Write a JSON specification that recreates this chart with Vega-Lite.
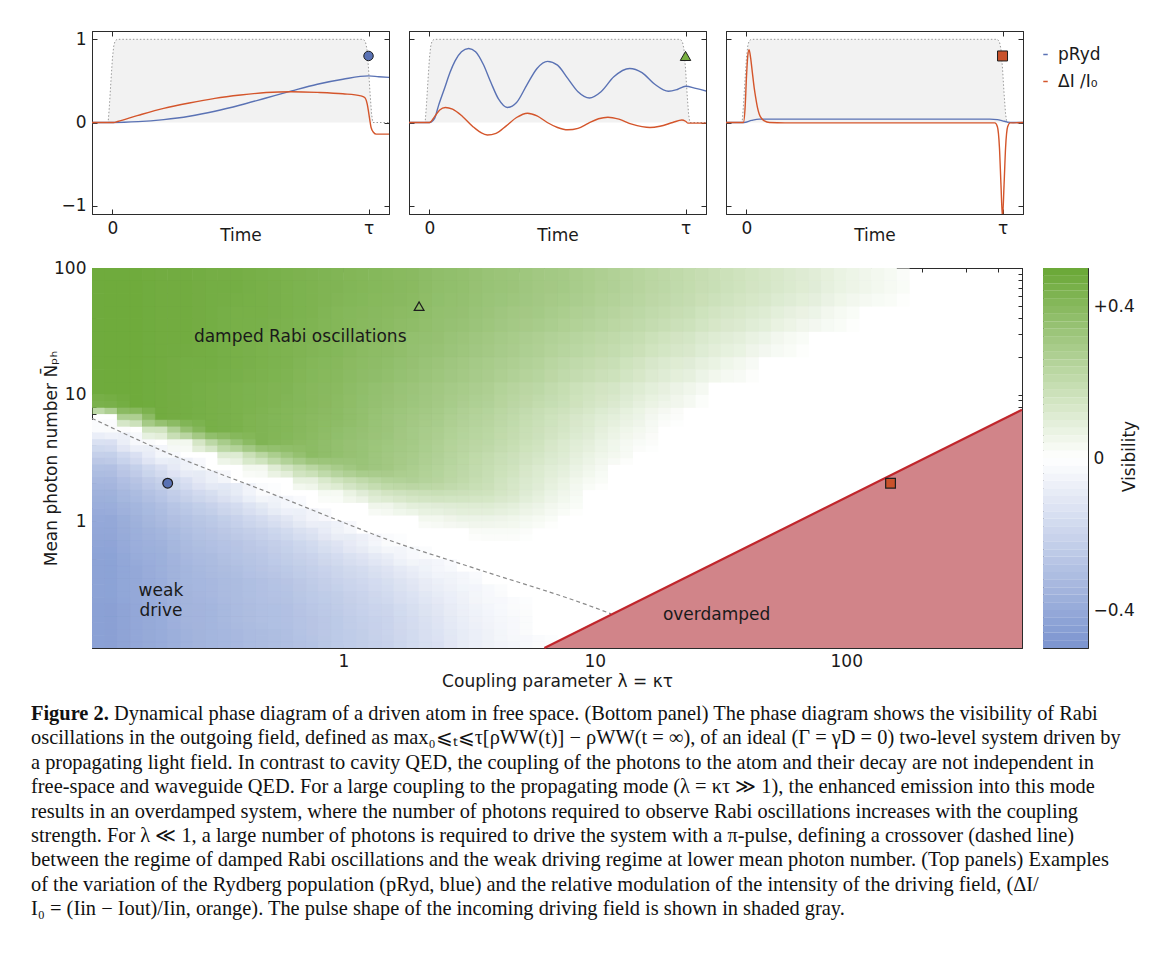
{
"$schema":"https://vega.github.io/schema/vega-lite/v6.json",
"background":"white",
"padding":{"left":30,"top":29,"right":5,"bottom":5},
"config":{
"view":{"stroke":"#2b2b2b","strokeWidth":1},
"axis":{"grid":false,"domain":true,"domainColor":"#2b2b2b","domainWidth":1,"zindex":1,"labelFont":"DejaVu Sans","titleFont":"DejaVu Sans","labelFontSize":17,"titleFontSize":17,"titleFontWeight":"normal","labelColor":"#1a1a1a","titleColor":"#1a1a1a","tickColor":"#2b2b2b","tickWidth":1,"labelFlush":false,"labelOverlap":false},
"legend":{"labelFont":"DejaVu Sans"},
"text":{"font":"DejaVu Sans"}
},
"datasets":{
"pulse":[{"t":-0.09,"p":0},{"t":-0.017,"p":0},{"t":-0.012,"p":0.2},{"t":-0.006,"p":0.5},{"t":0,"p":0.78},{"t":0.005,"p":0.92},{"t":0.01,"p":0.98},{"t":0.018,"p":1},{"t":0.98,"p":1},{"t":0.988,"p":0.97},{"t":0.994,"p":0.88},{"t":1,"p":0.65},{"t":1.006,"p":0.35},{"t":1.012,"p":0.1},{"t":1.017,"p":0},{"t":1.09,"p":0}],
"marker":[{"t":1,"y":0.8}],
"p1":[
{"s":"pRyd","t":-0.09,"y":0},{"s":"pRyd","t":0,"y":0},{"s":"pRyd","t":0.1,"y":0.01},{"s":"pRyd","t":0.2,"y":0.035},{"s":"pRyd","t":0.3,"y":0.075},{"s":"pRyd","t":0.4,"y":0.135},{"s":"pRyd","t":0.5,"y":0.21},{"s":"pRyd","t":0.6,"y":0.295},{"s":"pRyd","t":0.7,"y":0.38},{"s":"pRyd","t":0.8,"y":0.46},{"s":"pRyd","t":0.9,"y":0.52},{"s":"pRyd","t":1.0,"y":0.56},{"s":"pRyd","t":1.04,"y":0.55},{"s":"pRyd","t":1.09,"y":0.54},
{"s":"ΔI /I₀","t":-0.09,"y":0},{"s":"ΔI /I₀","t":0.005,"y":0},{"s":"ΔI /I₀","t":0.02,"y":0.012},{"s":"ΔI /I₀","t":0.1,"y":0.085},{"s":"ΔI /I₀","t":0.2,"y":0.17},{"s":"ΔI /I₀","t":0.3,"y":0.235},{"s":"ΔI /I₀","t":0.4,"y":0.29},{"s":"ΔI /I₀","t":0.5,"y":0.33},{"s":"ΔI /I₀","t":0.6,"y":0.36},{"s":"ΔI /I₀","t":0.7,"y":0.37},{"s":"ΔI /I₀","t":0.8,"y":0.362},{"s":"ΔI /I₀","t":0.9,"y":0.345},{"s":"ΔI /I₀","t":0.97,"y":0.32},{"s":"ΔI /I₀","t":0.985,"y":0.3},{"s":"ΔI /I₀","t":0.995,"y":0.22},{"s":"ΔI /I₀","t":1.0,"y":0.13},{"s":"ΔI /I₀","t":1.005,"y":0.03},{"s":"ΔI /I₀","t":1.01,"y":-0.06},{"s":"ΔI /I₀","t":1.02,"y":-0.12},{"s":"ΔI /I₀","t":1.03,"y":-0.14},{"s":"ΔI /I₀","t":1.09,"y":-0.14}],
"p2":[
{"s":"pRyd","t":-0.09,"y":0},{"s":"pRyd","t":0,"y":0},{"s":"pRyd","t":0.02,"y":0.05},{"s":"pRyd","t":0.035,"y":0.2},{"s":"pRyd","t":0.06,"y":0.42},{"s":"pRyd","t":0.08,"y":0.6},{"s":"pRyd","t":0.1,"y":0.74},{"s":"pRyd","t":0.125,"y":0.85},{"s":"pRyd","t":0.153,"y":0.89},{"s":"pRyd","t":0.18,"y":0.85},{"s":"pRyd","t":0.21,"y":0.7},{"s":"pRyd","t":0.24,"y":0.48},{"s":"pRyd","t":0.27,"y":0.28},{"s":"pRyd","t":0.304,"y":0.18},{"s":"pRyd","t":0.34,"y":0.24},{"s":"pRyd","t":0.38,"y":0.45},{"s":"pRyd","t":0.42,"y":0.65},{"s":"pRyd","t":0.461,"y":0.735},{"s":"pRyd","t":0.5,"y":0.69},{"s":"pRyd","t":0.54,"y":0.53},{"s":"pRyd","t":0.58,"y":0.37},{"s":"pRyd","t":0.625,"y":0.295},{"s":"pRyd","t":0.67,"y":0.37},{"s":"pRyd","t":0.72,"y":0.55},{"s":"pRyd","t":0.782,"y":0.65},{"s":"pRyd","t":0.83,"y":0.6},{"s":"pRyd","t":0.88,"y":0.46},{"s":"pRyd","t":0.933,"y":0.375},{"s":"pRyd","t":0.97,"y":0.4},{"s":"pRyd","t":1.0,"y":0.435},{"s":"pRyd","t":1.04,"y":0.41},{"s":"pRyd","t":1.09,"y":0.37},
{"s":"ΔI /I₀","t":-0.09,"y":0},{"s":"ΔI /I₀","t":0,"y":0},{"s":"ΔI /I₀","t":0.02,"y":0.07},{"s":"ΔI /I₀","t":0.04,"y":0.15},{"s":"ΔI /I₀","t":0.062,"y":0.18},{"s":"ΔI /I₀","t":0.09,"y":0.16},{"s":"ΔI /I₀","t":0.13,"y":0.07},{"s":"ΔI /I₀","t":0.17,"y":-0.05},{"s":"ΔI /I₀","t":0.2,"y":-0.12},{"s":"ΔI /I₀","t":0.226,"y":-0.15},{"s":"ΔI /I₀","t":0.26,"y":-0.13},{"s":"ΔI /I₀","t":0.3,"y":-0.04},{"s":"ΔI /I₀","t":0.34,"y":0.06},{"s":"ΔI /I₀","t":0.383,"y":0.112},{"s":"ΔI /I₀","t":0.42,"y":0.08},{"s":"ΔI /I₀","t":0.46,"y":0.0},{"s":"ΔI /I₀","t":0.5,"y":-0.06},{"s":"ΔI /I₀","t":0.54,"y":-0.088},{"s":"ΔI /I₀","t":0.58,"y":-0.07},{"s":"ΔI /I₀","t":0.62,"y":-0.01},{"s":"ΔI /I₀","t":0.66,"y":0.045},{"s":"ΔI /I₀","t":0.697,"y":0.064},{"s":"ΔI /I₀","t":0.74,"y":0.04},{"s":"ΔI /I₀","t":0.79,"y":-0.02},{"s":"ΔI /I₀","t":0.83,"y":-0.05},{"s":"ΔI /I₀","t":0.861,"y":-0.06},{"s":"ΔI /I₀","t":0.9,"y":-0.045},{"s":"ΔI /I₀","t":0.95,"y":0.0},{"s":"ΔI /I₀","t":0.986,"y":0.03},{"s":"ΔI /I₀","t":1.0,"y":0.015},{"s":"ΔI /I₀","t":1.01,"y":-0.008},{"s":"ΔI /I₀","t":1.09,"y":-0.008}],
"p3":[
{"s":"pRyd","t":-0.09,"y":0},{"s":"pRyd","t":-0.01,"y":0},{"s":"pRyd","t":0.02,"y":0.025},{"s":"pRyd","t":0.05,"y":0.04},{"s":"pRyd","t":0.95,"y":0.04},{"s":"pRyd","t":0.98,"y":0.035},{"s":"pRyd","t":1.0,"y":0.02},{"s":"pRyd","t":1.02,"y":0.005},{"s":"pRyd","t":1.04,"y":0},{"s":"pRyd","t":1.09,"y":0},
{"s":"ΔI /I₀","t":-0.09,"y":0},{"s":"ΔI /I₀","t":-0.012,"y":0},{"s":"ΔI /I₀","t":-0.005,"y":0.2},{"s":"ΔI /I₀","t":0,"y":0.55},{"s":"ΔI /I₀","t":0.005,"y":0.8},{"s":"ΔI /I₀","t":0.01,"y":0.876},{"s":"ΔI /I₀","t":0.016,"y":0.78},{"s":"ΔI /I₀","t":0.023,"y":0.6},{"s":"ΔI /I₀","t":0.03,"y":0.42},{"s":"ΔI /I₀","t":0.036,"y":0.3},{"s":"ΔI /I₀","t":0.043,"y":0.18},{"s":"ΔI /I₀","t":0.05,"y":0.1},{"s":"ΔI /I₀","t":0.06,"y":0.045},{"s":"ΔI /I₀","t":0.07,"y":0.02},{"s":"ΔI /I₀","t":0.09,"y":0},{"s":"ΔI /I₀","t":0.15,"y":-0.005},{"s":"ΔI /I₀","t":0.97,"y":-0.005},{"s":"ΔI /I₀","t":0.98,"y":-0.05},{"s":"ΔI /I₀","t":0.988,"y":-0.3},{"s":"ΔI /I₀","t":0.994,"y":-0.75},{"s":"ΔI /I₀","t":1.0,"y":-1.15},{"s":"ΔI /I₀","t":1.006,"y":-0.75},{"s":"ΔI /I₀","t":1.012,"y":-0.3},{"s":"ΔI /I₀","t":1.02,"y":-0.05},{"s":"ΔI /I₀","t":1.03,"y":-0.005},{"s":"ΔI /I₀","t":1.09,"y":0}],
"coarse":[
{"lam":0.1122,"n":79.43,"v":0.48},{"lam":0.1413,"n":79.43,"v":0.48},{"lam":0.1778,"n":79.43,"v":0.47},{"lam":0.2239,"n":79.43,"v":0.47},{"lam":0.2818,"n":79.43,"v":0.46},{"lam":0.3548,"n":79.43,"v":0.46},{"lam":0.4467,"n":79.43,"v":0.45},{"lam":0.5623,"n":79.43,"v":0.44},{"lam":0.7079,"n":79.43,"v":0.43},{"lam":0.8913,"n":79.43,"v":0.42},{"lam":1.122,"n":79.43,"v":0.41},{"lam":1.413,"n":79.43,"v":0.40},{"lam":1.778,"n":79.43,"v":0.39},{"lam":2.239,"n":79.43,"v":0.37},{"lam":2.818,"n":79.43,"v":0.36},{"lam":3.548,"n":79.43,"v":0.34},{"lam":4.467,"n":79.43,"v":0.33},{"lam":5.623,"n":79.43,"v":0.31},{"lam":7.079,"n":79.43,"v":0.30},{"lam":8.913,"n":79.43,"v":0.28},{"lam":11.22,"n":79.43,"v":0.26},{"lam":14.13,"n":79.43,"v":0.24},{"lam":17.78,"n":79.43,"v":0.22},{"lam":22.39,"n":79.43,"v":0.20},{"lam":28.18,"n":79.43,"v":0.18},{"lam":35.48,"n":79.43,"v":0.16},{"lam":44.67,"n":79.43,"v":0.14},{"lam":56.23,"n":79.43,"v":0.12},{"lam":70.79,"n":79.43,"v":0.10},{"lam":89.13,"n":79.43,"v":0.07},{"lam":112.2,"n":79.43,"v":0.05},{"lam":141.3,"n":79.43,"v":0.03},
{"lam":0.1122,"n":50.12,"v":0.48},{"lam":0.1413,"n":50.12,"v":0.48},{"lam":0.1778,"n":50.12,"v":0.47},{"lam":0.2239,"n":50.12,"v":0.47},{"lam":0.2818,"n":50.12,"v":0.46},{"lam":0.3548,"n":50.12,"v":0.45},{"lam":0.4467,"n":50.12,"v":0.45},{"lam":0.5623,"n":50.12,"v":0.44},{"lam":0.7079,"n":50.12,"v":0.43},{"lam":0.8913,"n":50.12,"v":0.41},{"lam":1.122,"n":50.12,"v":0.40},{"lam":1.413,"n":50.12,"v":0.39},{"lam":1.778,"n":50.12,"v":0.38},{"lam":2.239,"n":50.12,"v":0.36},{"lam":2.818,"n":50.12,"v":0.35},{"lam":3.548,"n":50.12,"v":0.33},{"lam":4.467,"n":50.12,"v":0.31},{"lam":5.623,"n":50.12,"v":0.30},{"lam":7.079,"n":50.12,"v":0.28},{"lam":8.913,"n":50.12,"v":0.26},{"lam":11.22,"n":50.12,"v":0.24},{"lam":14.13,"n":50.12,"v":0.22},{"lam":17.78,"n":50.12,"v":0.20},{"lam":22.39,"n":50.12,"v":0.18},{"lam":28.18,"n":50.12,"v":0.15},{"lam":35.48,"n":50.12,"v":0.13},{"lam":44.67,"n":50.12,"v":0.11},{"lam":56.23,"n":50.12,"v":0.08},{"lam":70.79,"n":50.12,"v":0.06},{"lam":89.13,"n":50.12,"v":0.03},
{"lam":0.1122,"n":31.62,"v":0.48},{"lam":0.1413,"n":31.62,"v":0.48},{"lam":0.1778,"n":31.62,"v":0.47},{"lam":0.2239,"n":31.62,"v":0.47},{"lam":0.2818,"n":31.62,"v":0.46},{"lam":0.3548,"n":31.62,"v":0.45},{"lam":0.4467,"n":31.62,"v":0.44},{"lam":0.5623,"n":31.62,"v":0.43},{"lam":0.7079,"n":31.62,"v":0.42},{"lam":0.8913,"n":31.62,"v":0.41},{"lam":1.122,"n":31.62,"v":0.39},{"lam":1.413,"n":31.62,"v":0.38},{"lam":1.778,"n":31.62,"v":0.36},{"lam":2.239,"n":31.62,"v":0.35},{"lam":2.818,"n":31.62,"v":0.33},{"lam":3.548,"n":31.62,"v":0.31},{"lam":4.467,"n":31.62,"v":0.29},{"lam":5.623,"n":31.62,"v":0.27},{"lam":7.079,"n":31.62,"v":0.25},{"lam":8.913,"n":31.62,"v":0.23},{"lam":11.22,"n":31.62,"v":0.21},{"lam":14.13,"n":31.62,"v":0.19},{"lam":17.78,"n":31.62,"v":0.16},{"lam":22.39,"n":31.62,"v":0.14},{"lam":28.18,"n":31.62,"v":0.11},{"lam":35.48,"n":31.62,"v":0.09},{"lam":44.67,"n":31.62,"v":0.06},{"lam":56.23,"n":31.62,"v":0.03},
{"lam":0.1122,"n":19.95,"v":0.48},{"lam":0.1413,"n":19.95,"v":0.48},{"lam":0.1778,"n":19.95,"v":0.47},{"lam":0.2239,"n":19.95,"v":0.46},{"lam":0.2818,"n":19.95,"v":0.46},{"lam":0.3548,"n":19.95,"v":0.45},{"lam":0.4467,"n":19.95,"v":0.44},{"lam":0.5623,"n":19.95,"v":0.43},{"lam":0.7079,"n":19.95,"v":0.41},{"lam":0.8913,"n":19.95,"v":0.40},{"lam":1.122,"n":19.95,"v":0.38},{"lam":1.413,"n":19.95,"v":0.37},{"lam":1.778,"n":19.95,"v":0.35},{"lam":2.239,"n":19.95,"v":0.33},{"lam":2.818,"n":19.95,"v":0.31},{"lam":3.548,"n":19.95,"v":0.29},{"lam":4.467,"n":19.95,"v":0.27},{"lam":5.623,"n":19.95,"v":0.25},{"lam":7.079,"n":19.95,"v":0.22},{"lam":8.913,"n":19.95,"v":0.20},{"lam":11.22,"n":19.95,"v":0.18},{"lam":14.13,"n":19.95,"v":0.15},{"lam":17.78,"n":19.95,"v":0.12},{"lam":22.39,"n":19.95,"v":0.10},{"lam":28.18,"n":19.95,"v":0.07},{"lam":35.48,"n":19.95,"v":0.04},
{"lam":0.1122,"n":12.59,"v":0.48},{"lam":0.1413,"n":12.59,"v":0.48},{"lam":0.1778,"n":12.59,"v":0.47},{"lam":0.2239,"n":12.59,"v":0.46},{"lam":0.2818,"n":12.59,"v":0.45},{"lam":0.3548,"n":12.59,"v":0.44},{"lam":0.4467,"n":12.59,"v":0.43},{"lam":0.5623,"n":12.59,"v":0.42},{"lam":0.7079,"n":12.59,"v":0.40},{"lam":0.8913,"n":12.59,"v":0.39},{"lam":1.122,"n":12.59,"v":0.37},{"lam":1.413,"n":12.59,"v":0.35},{"lam":1.778,"n":12.59,"v":0.33},{"lam":2.239,"n":12.59,"v":0.31},{"lam":2.818,"n":12.59,"v":0.29},{"lam":3.548,"n":12.59,"v":0.27},{"lam":4.467,"n":12.59,"v":0.24},{"lam":5.623,"n":12.59,"v":0.22},{"lam":7.079,"n":12.59,"v":0.19},{"lam":8.913,"n":12.59,"v":0.16},{"lam":11.22,"n":12.59,"v":0.14},{"lam":14.13,"n":12.59,"v":0.11},{"lam":17.78,"n":12.59,"v":0.08},{"lam":22.39,"n":12.59,"v":0.05}],
"fine":[
{"lam":0.1122,"n":8.913,"v":0.43},{"lam":0.1413,"n":8.913,"v":0.48},{"lam":0.1778,"n":8.913,"v":0.47},{"lam":0.2239,"n":8.913,"v":0.46},{"lam":0.2818,"n":8.913,"v":0.45},{"lam":0.3548,"n":8.913,"v":0.44},{"lam":0.4467,"n":8.913,"v":0.43},{"lam":0.5623,"n":8.913,"v":0.41},{"lam":0.7079,"n":8.913,"v":0.40},{"lam":0.8913,"n":8.913,"v":0.38},{"lam":1.122,"n":8.913,"v":0.36},{"lam":1.413,"n":8.913,"v":0.34},{"lam":1.778,"n":8.913,"v":0.32},{"lam":2.239,"n":8.913,"v":0.30},{"lam":2.818,"n":8.913,"v":0.27},{"lam":3.548,"n":8.913,"v":0.25},{"lam":4.467,"n":8.913,"v":0.22},{"lam":5.623,"n":8.913,"v":0.19},{"lam":7.079,"n":8.913,"v":0.17},{"lam":8.913,"n":8.913,"v":0.14},{"lam":11.22,"n":8.913,"v":0.11},{"lam":14.13,"n":8.913,"v":0.07},{"lam":17.78,"n":8.913,"v":0.04},
{"lam":0.1413,"n":7.079,"v":0.27},{"lam":0.1778,"n":7.079,"v":0.47},{"lam":0.2239,"n":7.079,"v":0.46},{"lam":0.2818,"n":7.079,"v":0.45},{"lam":0.3548,"n":7.079,"v":0.44},{"lam":0.4467,"n":7.079,"v":0.42},{"lam":0.5623,"n":7.079,"v":0.41},{"lam":0.7079,"n":7.079,"v":0.39},{"lam":0.8913,"n":7.079,"v":0.38},{"lam":1.122,"n":7.079,"v":0.36},{"lam":1.413,"n":7.079,"v":0.33},{"lam":1.778,"n":7.079,"v":0.31},{"lam":2.239,"n":7.079,"v":0.29},{"lam":2.818,"n":7.079,"v":0.26},{"lam":3.548,"n":7.079,"v":0.24},{"lam":4.467,"n":7.079,"v":0.21},{"lam":5.623,"n":7.079,"v":0.18},{"lam":7.079,"n":7.079,"v":0.15},{"lam":8.913,"n":7.079,"v":0.12},{"lam":11.22,"n":7.079,"v":0.09},{"lam":14.13,"n":7.079,"v":0.06},{"lam":17.78,"n":7.079,"v":0.02},
{"lam":0.1122,"n":5.623,"v":-0.02},{"lam":0.1778,"n":5.623,"v":0.15},{"lam":0.2239,"n":5.623,"v":0.35},{"lam":0.2818,"n":5.623,"v":0.45},{"lam":0.3548,"n":5.623,"v":0.44},{"lam":0.4467,"n":5.623,"v":0.42},{"lam":0.5623,"n":5.623,"v":0.41},{"lam":0.7079,"n":5.623,"v":0.39},{"lam":0.8913,"n":5.623,"v":0.37},{"lam":1.122,"n":5.623,"v":0.35},{"lam":1.413,"n":5.623,"v":0.33},{"lam":1.778,"n":5.623,"v":0.30},{"lam":2.239,"n":5.623,"v":0.28},{"lam":2.818,"n":5.623,"v":0.25},{"lam":3.548,"n":5.623,"v":0.23},{"lam":4.467,"n":5.623,"v":0.20},{"lam":5.623,"n":5.623,"v":0.17},{"lam":7.079,"n":5.623,"v":0.14},{"lam":8.913,"n":5.623,"v":0.11},{"lam":11.22,"n":5.623,"v":0.07},{"lam":14.13,"n":5.623,"v":0.04},
{"lam":0.1122,"n":4.467,"v":-0.14},{"lam":0.1413,"n":4.467,"v":-0.03},{"lam":0.2239,"n":4.467,"v":0.04},{"lam":0.2818,"n":4.467,"v":0.22},{"lam":0.3548,"n":4.467,"v":0.34},{"lam":0.4467,"n":4.467,"v":0.42},{"lam":0.5623,"n":4.467,"v":0.40},{"lam":0.7079,"n":4.467,"v":0.38},{"lam":0.8913,"n":4.467,"v":0.36},{"lam":1.122,"n":4.467,"v":0.34},{"lam":1.413,"n":4.467,"v":0.32},{"lam":1.778,"n":4.467,"v":0.30},{"lam":2.239,"n":4.467,"v":0.27},{"lam":2.818,"n":4.467,"v":0.24},{"lam":3.548,"n":4.467,"v":0.22},{"lam":4.467,"n":4.467,"v":0.19},{"lam":5.623,"n":4.467,"v":0.16},{"lam":7.079,"n":4.467,"v":0.12},{"lam":8.913,"n":4.467,"v":0.09},{"lam":11.22,"n":4.467,"v":0.05},{"lam":14.13,"n":4.467,"v":0.02},
{"lam":0.1122,"n":3.548,"v":-0.22},{"lam":0.1413,"n":3.548,"v":-0.14},{"lam":0.1778,"n":3.548,"v":-0.04},{"lam":0.3548,"n":3.548,"v":0.11},{"lam":0.4467,"n":3.548,"v":0.23},{"lam":0.5623,"n":3.548,"v":0.32},{"lam":0.7079,"n":3.548,"v":0.38},{"lam":0.8913,"n":3.548,"v":0.36},{"lam":1.122,"n":3.548,"v":0.34},{"lam":1.413,"n":3.548,"v":0.31},{"lam":1.778,"n":3.548,"v":0.29},{"lam":2.239,"n":3.548,"v":0.26},{"lam":2.818,"n":3.548,"v":0.23},{"lam":3.548,"n":3.548,"v":0.20},{"lam":4.467,"n":3.548,"v":0.17},{"lam":5.623,"n":3.548,"v":0.14},{"lam":7.079,"n":3.548,"v":0.11},{"lam":8.913,"n":3.548,"v":0.07},{"lam":11.22,"n":3.548,"v":0.04},
{"lam":0.1122,"n":2.818,"v":-0.29},{"lam":0.1413,"n":2.818,"v":-0.22},{"lam":0.1778,"n":2.818,"v":-0.14},{"lam":0.2239,"n":2.818,"v":-0.06},{"lam":0.4467,"n":2.818,"v":0.04},{"lam":0.5623,"n":2.818,"v":0.15},{"lam":0.7079,"n":2.818,"v":0.23},{"lam":0.8913,"n":2.818,"v":0.29},{"lam":1.122,"n":2.818,"v":0.33},{"lam":1.413,"n":2.818,"v":0.31},{"lam":1.778,"n":2.818,"v":0.28},{"lam":2.239,"n":2.818,"v":0.25},{"lam":2.818,"n":2.818,"v":0.22},{"lam":3.548,"n":2.818,"v":0.19},{"lam":4.467,"n":2.818,"v":0.16},{"lam":5.623,"n":2.818,"v":0.12},{"lam":7.079,"n":2.818,"v":0.09},{"lam":8.913,"n":2.818,"v":0.05},
{"lam":0.1122,"n":2.239,"v":-0.33},{"lam":0.1413,"n":2.239,"v":-0.27},{"lam":0.1778,"n":2.239,"v":-0.21},{"lam":0.2239,"n":2.239,"v":-0.14},{"lam":0.2818,"n":2.239,"v":-0.07},{"lam":0.7079,"n":2.239,"v":0.08},{"lam":0.8913,"n":2.239,"v":0.16},{"lam":1.122,"n":2.239,"v":0.21},{"lam":1.413,"n":2.239,"v":0.25},{"lam":1.778,"n":2.239,"v":0.26},{"lam":2.239,"n":2.239,"v":0.24},{"lam":2.818,"n":2.239,"v":0.21},{"lam":3.548,"n":2.239,"v":0.18},{"lam":4.467,"n":2.239,"v":0.14},{"lam":5.623,"n":2.239,"v":0.11},{"lam":7.079,"n":2.239,"v":0.07},{"lam":8.913,"n":2.239,"v":0.03},
{"lam":0.1122,"n":1.778,"v":-0.36},{"lam":0.1413,"n":1.778,"v":-0.31},{"lam":0.1778,"n":1.778,"v":-0.26},{"lam":0.2239,"n":1.778,"v":-0.20},{"lam":0.2818,"n":1.778,"v":-0.15},{"lam":0.3548,"n":1.778,"v":-0.09},{"lam":0.4467,"n":1.778,"v":-0.02},{"lam":0.8913,"n":1.778,"v":0.03},{"lam":1.122,"n":1.778,"v":0.10},{"lam":1.413,"n":1.778,"v":0.15},{"lam":1.778,"n":1.778,"v":0.17},{"lam":2.239,"n":1.778,"v":0.18},{"lam":2.818,"n":1.778,"v":0.17},{"lam":3.548,"n":1.778,"v":0.16},{"lam":4.467,"n":1.778,"v":0.13},{"lam":5.623,"n":1.778,"v":0.09},{"lam":7.079,"n":1.778,"v":0.05},
{"lam":0.1122,"n":1.413,"v":-0.38},{"lam":0.1413,"n":1.413,"v":-0.34},{"lam":0.1778,"n":1.413,"v":-0.30},{"lam":0.2239,"n":1.413,"v":-0.25},{"lam":0.2818,"n":1.413,"v":-0.21},{"lam":0.3548,"n":1.413,"v":-0.16},{"lam":0.4467,"n":1.413,"v":-0.10},{"lam":0.5623,"n":1.413,"v":-0.04},{"lam":1.413,"n":1.413,"v":0.05},{"lam":1.778,"n":1.413,"v":0.09},{"lam":2.239,"n":1.413,"v":0.10},{"lam":2.818,"n":1.413,"v":0.11},{"lam":3.548,"n":1.413,"v":0.11},{"lam":4.467,"n":1.413,"v":0.09},{"lam":5.623,"n":1.413,"v":0.06},{"lam":7.079,"n":1.413,"v":0.03},
{"lam":0.1122,"n":1.122,"v":-0.40},{"lam":0.1413,"n":1.122,"v":-0.36},{"lam":0.1778,"n":1.122,"v":-0.32},{"lam":0.2239,"n":1.122,"v":-0.28},{"lam":0.2818,"n":1.122,"v":-0.25},{"lam":0.3548,"n":1.122,"v":-0.21},{"lam":0.4467,"n":1.122,"v":-0.16},{"lam":0.5623,"n":1.122,"v":-0.11},{"lam":0.7079,"n":1.122,"v":-0.05},{"lam":2.239,"n":1.122,"v":0.04},{"lam":2.818,"n":1.122,"v":0.06},{"lam":3.548,"n":1.122,"v":0.06},{"lam":4.467,"n":1.122,"v":0.05},{"lam":5.623,"n":1.122,"v":0.03},
{"lam":0.1122,"n":0.8913,"v":-0.41},{"lam":0.1413,"n":0.8913,"v":-0.37},{"lam":0.1778,"n":0.8913,"v":-0.34},{"lam":0.2239,"n":0.8913,"v":-0.30},{"lam":0.2818,"n":0.8913,"v":-0.27},{"lam":0.3548,"n":0.8913,"v":-0.24},{"lam":0.4467,"n":0.8913,"v":-0.21},{"lam":0.5623,"n":0.8913,"v":-0.17},{"lam":0.7079,"n":0.8913,"v":-0.12},{"lam":0.8913,"n":0.8913,"v":-0.06},{"lam":3.548,"n":0.8913,"v":0.02},{"lam":4.467,"n":0.8913,"v":0.02},
{"lam":0.1122,"n":0.7079,"v":-0.42},{"lam":0.1413,"n":0.7079,"v":-0.38},{"lam":0.1778,"n":0.7079,"v":-0.36},{"lam":0.2239,"n":0.7079,"v":-0.32},{"lam":0.2818,"n":0.7079,"v":-0.29},{"lam":0.3548,"n":0.7079,"v":-0.27},{"lam":0.4467,"n":0.7079,"v":-0.24},{"lam":0.5623,"n":0.7079,"v":-0.21},{"lam":0.7079,"n":0.7079,"v":-0.17},{"lam":0.8913,"n":0.7079,"v":-0.12},{"lam":1.122,"n":0.7079,"v":-0.07},{"lam":1.413,"n":0.7079,"v":-0.02},
{"lam":0.1122,"n":0.5623,"v":-0.43},{"lam":0.1413,"n":0.5623,"v":-0.39},{"lam":0.1778,"n":0.5623,"v":-0.37},{"lam":0.2239,"n":0.5623,"v":-0.33},{"lam":0.2818,"n":0.5623,"v":-0.31},{"lam":0.3548,"n":0.5623,"v":-0.28},{"lam":0.4467,"n":0.5623,"v":-0.26},{"lam":0.5623,"n":0.5623,"v":-0.23},{"lam":0.7079,"n":0.5623,"v":-0.20},{"lam":0.8913,"n":0.5623,"v":-0.16},{"lam":1.122,"n":0.5623,"v":-0.12},{"lam":1.413,"n":0.5623,"v":-0.08},{"lam":1.778,"n":0.5623,"v":-0.03},
{"lam":0.1122,"n":0.4467,"v":-0.43},{"lam":0.1413,"n":0.4467,"v":-0.40},{"lam":0.1778,"n":0.4467,"v":-0.37},{"lam":0.2239,"n":0.4467,"v":-0.34},{"lam":0.2818,"n":0.4467,"v":-0.32},{"lam":0.3548,"n":0.4467,"v":-0.30},{"lam":0.4467,"n":0.4467,"v":-0.27},{"lam":0.5623,"n":0.4467,"v":-0.25},{"lam":0.7079,"n":0.4467,"v":-0.22},{"lam":0.8913,"n":0.4467,"v":-0.19},{"lam":1.122,"n":0.4467,"v":-0.16},{"lam":1.413,"n":0.4467,"v":-0.12},{"lam":1.778,"n":0.4467,"v":-0.08},{"lam":2.239,"n":0.4467,"v":-0.04},
{"lam":0.1122,"n":0.3548,"v":-0.43},{"lam":0.1413,"n":0.3548,"v":-0.40},{"lam":0.1778,"n":0.3548,"v":-0.38},{"lam":0.2239,"n":0.3548,"v":-0.34},{"lam":0.2818,"n":0.3548,"v":-0.33},{"lam":0.3548,"n":0.3548,"v":-0.31},{"lam":0.4467,"n":0.3548,"v":-0.29},{"lam":0.5623,"n":0.3548,"v":-0.27},{"lam":0.7079,"n":0.3548,"v":-0.24},{"lam":0.8913,"n":0.3548,"v":-0.21},{"lam":1.122,"n":0.3548,"v":-0.18},{"lam":1.413,"n":0.3548,"v":-0.15},{"lam":1.778,"n":0.3548,"v":-0.11},{"lam":2.239,"n":0.3548,"v":-0.07},{"lam":2.818,"n":0.3548,"v":-0.04},
{"lam":0.1122,"n":0.2818,"v":-0.43},{"lam":0.1413,"n":0.2818,"v":-0.40},{"lam":0.1778,"n":0.2818,"v":-0.38},{"lam":0.2239,"n":0.2818,"v":-0.35},{"lam":0.2818,"n":0.2818,"v":-0.33},{"lam":0.3548,"n":0.2818,"v":-0.31},{"lam":0.4467,"n":0.2818,"v":-0.29},{"lam":0.5623,"n":0.2818,"v":-0.28},{"lam":0.7079,"n":0.2818,"v":-0.25},{"lam":0.8913,"n":0.2818,"v":-0.23},{"lam":1.122,"n":0.2818,"v":-0.20},{"lam":1.413,"n":0.2818,"v":-0.17},{"lam":1.778,"n":0.2818,"v":-0.13},{"lam":2.239,"n":0.2818,"v":-0.09},{"lam":2.818,"n":0.2818,"v":-0.06},{"lam":3.548,"n":0.2818,"v":-0.03},
{"lam":0.1122,"n":0.2239,"v":-0.44},{"lam":0.1413,"n":0.2239,"v":-0.41},{"lam":0.1778,"n":0.2239,"v":-0.38},{"lam":0.2239,"n":0.2239,"v":-0.35},{"lam":0.2818,"n":0.2239,"v":-0.34},{"lam":0.3548,"n":0.2239,"v":-0.32},{"lam":0.4467,"n":0.2239,"v":-0.30},{"lam":0.5623,"n":0.2239,"v":-0.29},{"lam":0.7079,"n":0.2239,"v":-0.26},{"lam":0.8913,"n":0.2239,"v":-0.24},{"lam":1.122,"n":0.2239,"v":-0.21},{"lam":1.413,"n":0.2239,"v":-0.19},{"lam":1.778,"n":0.2239,"v":-0.15},{"lam":2.239,"n":0.2239,"v":-0.11},{"lam":2.818,"n":0.2239,"v":-0.07},{"lam":3.548,"n":0.2239,"v":-0.04},{"lam":4.467,"n":0.2239,"v":-0.02},
{"lam":0.1122,"n":0.1778,"v":-0.44},{"lam":0.1413,"n":0.1778,"v":-0.41},{"lam":0.1778,"n":0.1778,"v":-0.39},{"lam":0.2239,"n":0.1778,"v":-0.35},{"lam":0.2818,"n":0.1778,"v":-0.34},{"lam":0.3548,"n":0.1778,"v":-0.32},{"lam":0.4467,"n":0.1778,"v":-0.30},{"lam":0.5623,"n":0.1778,"v":-0.29},{"lam":0.7079,"n":0.1778,"v":-0.27},{"lam":0.8913,"n":0.1778,"v":-0.25},{"lam":1.122,"n":0.1778,"v":-0.22},{"lam":1.413,"n":0.1778,"v":-0.20},{"lam":1.778,"n":0.1778,"v":-0.16},{"lam":2.239,"n":0.1778,"v":-0.12},{"lam":2.818,"n":0.1778,"v":-0.08},{"lam":3.548,"n":0.1778,"v":-0.05},{"lam":4.467,"n":0.1778,"v":-0.03},
{"lam":0.1122,"n":0.1413,"v":-0.44},{"lam":0.1413,"n":0.1413,"v":-0.41},{"lam":0.1778,"n":0.1413,"v":-0.39},{"lam":0.2239,"n":0.1413,"v":-0.36},{"lam":0.2818,"n":0.1413,"v":-0.34},{"lam":0.3548,"n":0.1413,"v":-0.33},{"lam":0.4467,"n":0.1413,"v":-0.31},{"lam":0.5623,"n":0.1413,"v":-0.30},{"lam":0.7079,"n":0.1413,"v":-0.27},{"lam":0.8913,"n":0.1413,"v":-0.25},{"lam":1.122,"n":0.1413,"v":-0.23},{"lam":1.413,"n":0.1413,"v":-0.20},{"lam":1.778,"n":0.1413,"v":-0.17},{"lam":2.239,"n":0.1413,"v":-0.13},{"lam":2.818,"n":0.1413,"v":-0.09},{"lam":3.548,"n":0.1413,"v":-0.06},{"lam":4.467,"n":0.1413,"v":-0.03},
{"lam":0.1122,"n":0.1122,"v":-0.44},{"lam":0.1413,"n":0.1122,"v":-0.41},{"lam":0.1778,"n":0.1122,"v":-0.39},{"lam":0.2239,"n":0.1122,"v":-0.36},{"lam":0.2818,"n":0.1122,"v":-0.34},{"lam":0.3548,"n":0.1122,"v":-0.33},{"lam":0.4467,"n":0.1122,"v":-0.31},{"lam":0.5623,"n":0.1122,"v":-0.30},{"lam":0.7079,"n":0.1122,"v":-0.28},{"lam":0.8913,"n":0.1122,"v":-0.25},{"lam":1.122,"n":0.1122,"v":-0.23},{"lam":1.413,"n":0.1122,"v":-0.21},{"lam":1.778,"n":0.1122,"v":-0.17},{"lam":2.239,"n":0.1122,"v":-0.14},{"lam":2.818,"n":0.1122,"v":-0.09},{"lam":3.548,"n":0.1122,"v":-0.06},{"lam":4.467,"n":0.1122,"v":-0.04},{"lam":5.623,"n":0.1122,"v":-0.02}],
"dash":[{"lam":0.1,"n":6.5},{"lam":0.2,"n":3.46},{"lam":0.5,"n":1.7},{"lam":1,"n":0.98},{"lam":1.41,"n":0.75},{"lam":3.16,"n":0.44},{"lam":10,"n":0.208},{"lam":11.6,"n":0.186}],
"od":[{"lam":6.3,"n":0.1},{"lam":500,"n":7.6}],
"pts":[{"lam":0.2,"n":2,"r":"weak"},{"lam":2,"n":50,"r":"rabi"},{"lam":150,"n":2,"r":"over"}],
"labels":[{"lam":0.673,"n":28.3,"label":"damped Rabi oscillations"},{"lam":0.188,"n":0.28,"label":"weak"},{"lam":0.188,"n":0.195,"label":"drive"},{"lam":30.5,"n":0.181,"label":"overdamped"}],
"cbar":[{"v":-0.49},{"v":-0.47},{"v":-0.45},{"v":-0.43},{"v":-0.41},{"v":-0.39},{"v":-0.37},{"v":-0.35},{"v":-0.33},{"v":-0.31},{"v":-0.29},{"v":-0.27},{"v":-0.25},{"v":-0.23},{"v":-0.21},{"v":-0.19},{"v":-0.17},{"v":-0.15},{"v":-0.13},{"v":-0.11},{"v":-0.09},{"v":-0.07},{"v":-0.05},{"v":-0.03},{"v":-0.01},{"v":0.01},{"v":0.03},{"v":0.05},{"v":0.07},{"v":0.09},{"v":0.11},{"v":0.13},{"v":0.15},{"v":0.17},{"v":0.19},{"v":0.21},{"v":0.23},{"v":0.25},{"v":0.27},{"v":0.29},{"v":0.31},{"v":0.33},{"v":0.35},{"v":0.37},{"v":0.39},{"v":0.41},{"v":0.43},{"v":0.45},{"v":0.47},{"v":0.49}],
"cap":[
{"line":1,"part":"head","text":"Figure 2."},
{"line":1,"part":"body","text":"Dynamical phase diagram of a driven atom in free space. (Bottom panel) The phase diagram shows the visibility of Rabi"},
{"line":2,"part":"body","text":"oscillations in the outgoing field, defined as max₀⩽ₜ⩽τ[ρWW(t)] − ρWW(t = ∞), of an ideal (Γ = γD = 0) two-level system driven by"},
{"line":3,"part":"body","text":"a propagating light field. In contrast to cavity QED, the coupling of the photons to the atom and their decay are not independent in"},
{"line":4,"part":"body","text":"free-space and waveguide QED. For a large coupling to the propagating mode (λ = κτ ≫ 1), the enhanced emission into this mode"},
{"line":5,"part":"body","text":"results in an overdamped system, where the number of photons required to observe Rabi oscillations increases with the coupling"},
{"line":6,"part":"body","text":"strength. For λ ≪ 1, a large number of photons is required to drive the system with a π-pulse, defining a crossover (dashed line)"},
{"line":7,"part":"body","text":"between the regime of damped Rabi oscillations and the weak driving regime at lower mean photon number. (Top panels) Examples"},
{"line":8,"part":"body","text":"of the variation of the Rydberg population (pRyd, blue) and the relative modulation of the intensity of the driving field, (ΔI/"},
{"line":9,"part":"body","text":"I₀ = (Iin − Iout)/Iin, orange). The pulse shape of the incoming driving field is shown in shaded gray."}]
},
"resolve":{"scale":{"color":"independent","fill":"independent","shape":"independent"}},
"spacing":14,
"bounds":"full",
"vconcat":[
{
"spacing":20,
"bounds":"flush",
"resolve":{"legend":{"color":"independent"}},
"hconcat":[
{
"width":297,"height":183,
"layer":[
{"data":{"name":"pulse"},"mark":{"type":"area","color":"#f2f2f2","clip":true},
"encoding":{
"x":{"field":"t","type":"quantitative","scale":{"domain":[-0.08,1.08],"nice":false,"zero":false},"axis":{"orient":"bottom","values":[0,1],"labelExpr":"datum.value == 0 ? '0' : 'τ'","title":"Time","tickSize":-5,"labelPadding":11,"titleY":26,"titleBaseline":"alphabetic"}},
"y":{"field":"p","type":"quantitative","scale":{"domain":[-1.1,1.1],"nice":false,"zero":false},"axis":{"orient":"left","values":[-1,0,1],"labelExpr":"datum.value < 0 ? '−1' : (datum.value > 0 ? '1' : '0')","title":null,"tickSize":-5,"labelPadding":11}},
"y2":{"datum":0}}},
{"data":{"name":"pulse"},"mark":{"type":"line","color":"#9a9a9a","strokeDash":[1.5,2],"strokeWidth":1,"clip":true},
"encoding":{"x":{"field":"t","type":"quantitative","axis":null},"y":{"field":"p","type":"quantitative","axis":null}}},
{"data":{"name":"p1"},"mark":{"type":"line","strokeWidth":1.4,"clip":true,"interpolate":"monotone"},
"encoding":{"x":{"field":"t","type":"quantitative","axis":null},"y":{"field":"y","type":"quantitative","axis":null},
"color":{"field":"s","type":"nominal","scale":{"domain":["pRyd","ΔI /I₀"],"range":["#5a72b4","#d4552b"]},"legend":null}}},
{"data":{"name":"marker"},"mark":{"type":"point","shape":"circle","filled":true,"color":"#5a72b4","stroke":"#1e1e1e","strokeWidth":1,"size":90,"opacity":1},
"encoding":{"x":{"field":"t","type":"quantitative","axis":{"orient":"top","values":[0,1],"labels":false,"tickSize":-5,"title":"M","titleX":-61,"titleY":90,"titleAlign":"left","titleBaseline":"middle","titleOpacity":0}},"y":{"field":"y","type":"quantitative","axis":{"orient":"right","values":[-1,0,1],"labels":false,"title":null,"tickSize":-5}}}}
]
},
{
"width":297,"height":183,
"layer":[
{"data":{"name":"pulse"},"mark":{"type":"area","color":"#f2f2f2","clip":true},
"encoding":{
"x":{"field":"t","type":"quantitative","scale":{"domain":[-0.08,1.08],"nice":false,"zero":false},"axis":{"orient":"bottom","values":[0,1],"labelExpr":"datum.value == 0 ? '0' : 'τ'","title":"Time","tickSize":-5,"labelPadding":11,"titleY":26,"titleBaseline":"alphabetic"}},
"y":{"field":"p","type":"quantitative","scale":{"domain":[-1.1,1.1],"nice":false,"zero":false},"axis":{"orient":"left","values":[-1,0,1],"labels":false,"title":null,"tickSize":-5}},
"y2":{"datum":0}}},
{"data":{"name":"pulse"},"mark":{"type":"line","color":"#9a9a9a","strokeDash":[1.5,2],"strokeWidth":1,"clip":true},
"encoding":{"x":{"field":"t","type":"quantitative","axis":null},"y":{"field":"p","type":"quantitative","axis":null}}},
{"data":{"name":"p2"},"mark":{"type":"line","strokeWidth":1.4,"clip":true,"interpolate":"monotone"},
"encoding":{"x":{"field":"t","type":"quantitative","axis":null},"y":{"field":"y","type":"quantitative","axis":null},
"color":{"field":"s","type":"nominal","scale":{"domain":["pRyd","ΔI /I₀"],"range":["#5a72b4","#d4552b"]},"legend":null}}},
{"data":{"name":"marker"},"mark":{"type":"point","shape":"triangle-up","filled":true,"color":"#78b040","stroke":"#1e1e1e","strokeWidth":1,"size":110,"opacity":1},
"encoding":{"x":{"field":"t","type":"quantitative","axis":{"orient":"top","values":[0,1],"labels":false,"title":null,"tickSize":-5}},"y":{"field":"y","type":"quantitative","axis":{"orient":"right","values":[-1,0,1],"labels":false,"title":null,"tickSize":-5}}}}
]
},
{
"width":297,"height":183,
"layer":[
{"data":{"name":"pulse"},"mark":{"type":"area","color":"#f2f2f2","clip":true},
"encoding":{
"x":{"field":"t","type":"quantitative","scale":{"domain":[-0.08,1.08],"nice":false,"zero":false},"axis":{"orient":"bottom","values":[0,1],"labelExpr":"datum.value == 0 ? '0' : 'τ'","title":"Time","tickSize":-5,"labelPadding":11,"titleY":26,"titleBaseline":"alphabetic"}},
"y":{"field":"p","type":"quantitative","scale":{"domain":[-1.1,1.1],"nice":false,"zero":false},"axis":{"orient":"left","values":[-1,0,1],"labels":false,"title":null,"tickSize":-5}},
"y2":{"datum":0}}},
{"data":{"name":"pulse"},"mark":{"type":"line","color":"#9a9a9a","strokeDash":[1.5,2],"strokeWidth":1,"clip":true},
"encoding":{"x":{"field":"t","type":"quantitative","axis":null},"y":{"field":"p","type":"quantitative","axis":null}}},
{"data":{"name":"p3"},"mark":{"type":"line","strokeWidth":1.4,"clip":true,"interpolate":"monotone"},
"encoding":{"x":{"field":"t","type":"quantitative","axis":null},"y":{"field":"y","type":"quantitative","axis":null},
"color":{"field":"s","type":"nominal","scale":{"domain":["pRyd","ΔI /I₀"],"range":["#5a72b4","#d4552b"]},"legend":{"orient":"none","legendX":311,"legendY":15,"title":null,"symbolType":"stroke","symbolSize":20,"symbolStrokeWidth":1.5,"labelFontSize":17,"labelColor":"#1a1a1a","rowPadding":9,"labelOffset":4}}}},
{"data":{"name":"marker"},"mark":{"type":"point","shape":"square","filled":true,"color":"#c9522b","stroke":"#1e1e1e","strokeWidth":1,"size":100,"opacity":1},
"encoding":{"x":{"field":"t","type":"quantitative","axis":{"orient":"top","values":[0,1],"labels":false,"title":null,"tickSize":-5}},"y":{"field":"y","type":"quantitative","axis":{"orient":"right","values":[-1,0,1],"labels":false,"title":null,"tickSize":-5}}}}
]
}
]
},
{
"spacing":21,
"bounds":"flush",
"hconcat":[
{
"width":930,"height":380,
"layer":[
{"data":{"name":"coarse"},"mark":{"type":"point","shape":"M-1,-1.008H1V1.008H-1Z","size":655.36,"filled":true,"opacity":1,"strokeWidth":0,"clip":true},
"encoding":{
"x":{"field":"lam","type":"quantitative","scale":{"type":"log","domain":[0.1,500],"nice":false},"axis":{"orient":"bottom","values":[0.2,0.3,0.4,0.5,0.6,0.7,0.8,0.9,1,2,3,4,5,6,7,8,9,10,20,30,40,50,60,70,80,90,100,200,300,400],"labelExpr":"datum.value == 1 ? '1' : (datum.value == 10 ? '10' : (datum.value == 100 ? '100' : ''))","title":"Coupling parameter λ = κτ","tickSize":-4,"labelPadding":9,"titleY":38,"titleBaseline":"alphabetic"}},
"y":{"field":"n","type":"quantitative","scale":{"type":"log","domain":[0.1,100],"nice":false},"axis":{"orient":"left","values":[0.2,0.3,0.4,0.5,0.6,0.7,0.8,0.9,1,2,3,4,5,6,7,8,9,10,20,30,40,50,60,70,80,90,100],"labelExpr":"datum.value == 1 ? '1' : (datum.value == 10 ? '10' : (datum.value == 100 ? '100' : ''))","title":"Mean photon number N̄ₚₕ","tickSize":-4,"labelPadding":10,"titleX":-36,"titleBaseline":"alphabetic"}},
"color":{"field":"v","type":"quantitative","scale":{"domain":[-0.5,0,0.5],"range":["#7b94cf","#ffffff","#69a735"],"interpolate":"rgb"},"legend":null}}},
{"data":{"name":"fine"},"mark":{"type":"point","shape":"M-1,-0.512H1V0.512H-1Z","size":655.36,"filled":true,"opacity":1,"strokeWidth":0,"clip":true},
"encoding":{"x":{"field":"lam","type":"quantitative","axis":null},"y":{"field":"n","type":"quantitative","axis":null},"color":{"field":"v","type":"quantitative","legend":null}}},
{"data":{"name":"coarse"},"mark":{"type":"point","shape":"M0,-1.008H2V1.008H0Z","size":655.36,"filled":true,"opacity":0.5,"strokeWidth":0,"clip":true},
"encoding":{"x":{"field":"lam","type":"quantitative","axis":null},"y":{"field":"n","type":"quantitative","axis":null},"color":{"field":"v","type":"quantitative","legend":null}}},
{"data":{"name":"fine"},"mark":{"type":"point","shape":"M0,-0.512H2V0.512H0Z","size":655.36,"filled":true,"opacity":0.5,"strokeWidth":0,"clip":true},
"encoding":{"x":{"field":"lam","type":"quantitative","axis":null},"y":{"field":"n","type":"quantitative","axis":null},"color":{"field":"v","type":"quantitative","legend":null}}},
{"data":{"name":"coarse"},"mark":{"type":"point","shape":"M-1,0H1V2.016H-1Z","size":655.36,"filled":true,"opacity":0.5,"strokeWidth":0,"clip":true},
"encoding":{"x":{"field":"lam","type":"quantitative","axis":null},"y":{"field":"n","type":"quantitative","axis":null},"color":{"field":"v","type":"quantitative","legend":null}}},
{"data":{"name":"fine"},"mark":{"type":"point","shape":"M-1,0H1V1.024H-1Z","size":655.36,"filled":true,"opacity":0.5,"strokeWidth":0,"clip":true},
"encoding":{"x":{"field":"lam","type":"quantitative","axis":null},"y":{"field":"n","type":"quantitative","axis":null},"color":{"field":"v","type":"quantitative","legend":null}}},
{"data":{"name":"coarse"},"mark":{"type":"point","shape":"M0,0H2V2.016H0Z","size":655.36,"filled":true,"opacity":0.25,"strokeWidth":0,"clip":true},
"encoding":{"x":{"field":"lam","type":"quantitative","axis":null},"y":{"field":"n","type":"quantitative","axis":null},"color":{"field":"v","type":"quantitative","legend":null}}},
{"data":{"name":"fine"},"mark":{"type":"point","shape":"M0,0H2V1.024H0Z","size":655.36,"filled":true,"opacity":0.25,"strokeWidth":0,"clip":true},
"encoding":{"x":{"field":"lam","type":"quantitative","axis":null},"y":{"field":"n","type":"quantitative","axis":null},"color":{"field":"v","type":"quantitative","legend":null}}},
{"data":{"name":"dash"},"mark":{"type":"line","color":"#8a8a8a","strokeDash":[4,3],"strokeWidth":1.2,"interpolate":"monotone"},
"encoding":{"x":{"field":"lam","type":"quantitative","axis":null},"y":{"field":"n","type":"quantitative","axis":null}}},
{"data":{"name":"od"},"mark":{"type":"area","color":"#d18489","opacity":1},
"encoding":{"x":{"field":"lam","type":"quantitative","axis":null},"y":{"field":"n","type":"quantitative","axis":null},"y2":{"datum":0.1}}},
{"data":{"name":"od"},"mark":{"type":"line","color":"#c0262c","strokeWidth":2.2},
"encoding":{"x":{"field":"lam","type":"quantitative","axis":null},"y":{"field":"n","type":"quantitative","axis":null}}},
{"data":{"name":"labels"},"mark":{"type":"text","fontSize":17,"color":"#1a1a1a","baseline":"middle","align":"center"},
"encoding":{"x":{"field":"lam","type":"quantitative","axis":null},"y":{"field":"n","type":"quantitative","axis":null},"text":{"field":"label"}}},
{"data":{"name":"pts"},"mark":{"type":"point","filled":true,"stroke":"#1e1e1e","strokeWidth":1.2,"size":95,"opacity":1},
"encoding":{
"x":{"field":"lam","type":"quantitative","axis":{"orient":"top","values":[0.2,0.3,0.4,0.5,0.6,0.7,0.8,0.9,1,2,3,4,5,6,7,8,9,10,20,30,40,50,60,70,80,90,100,200,300,400],"labels":false,"tickSize":-4,"title":"M","titleX":-61,"titleY":190,"titleAlign":"left","titleBaseline":"middle","titleOpacity":0}},
"y":{"field":"n","type":"quantitative","axis":{"orient":"right","values":[0.2,0.3,0.4,0.5,0.6,0.7,0.8,0.9,1,2,3,4,5,6,7,8,9,10,20,30,40,50,60,70,80,90,100],"labels":false,"title":null,"tickSize":-4}},
"shape":{"field":"r","type":"nominal","scale":{"domain":["weak","rabi","over"],"range":["circle","triangle-up","square"]},"legend":null},
"fill":{"field":"r","type":"nominal","scale":{"domain":["weak","rabi","over"],"range":["#5a72b4","transparent","#c9522b"]},"legend":null}}}
]
},
{
"width":45,"height":380,
"layer":[
{"data":{"name":"cbar"},"mark":{"type":"point","shape":"M-1,-0.1711H1V0.1711H-1Z","size":2025,"filled":true,"opacity":1,"strokeWidth":0},
"encoding":{
"x":{"datum":0.5,"type":"quantitative","scale":{"domain":[0,1]},"axis":null},
"y":{"field":"v","type":"quantitative","scale":{"domain":[-0.5,0.5],"nice":false,"zero":false},"axis":{"orient":"right","values":[-0.4,0,0.4],"labelExpr":"datum.value > 0 ? '+0.4' : (datum.value < 0 ? '−0.4' : '0')","title":"Visibility","titleAngle":-90,"titleX":46,"titleY":188,"titleBaseline":"alphabetic","tickSize":-4,"labelPadding":9}},
"color":{"field":"v","type":"quantitative","scale":{"domain":[-0.5,0,0.5],"range":["#7b94cf","#ffffff","#69a735"],"interpolate":"rgb"},"legend":null}}},
{"data":{"name":"cbar"},"mark":{"type":"point","opacity":0},
"encoding":{"x":{"datum":0.5,"type":"quantitative","axis":null},"y":{"field":"v","type":"quantitative","axis":{"orient":"left","labels":false,"ticks":false,"title":null}}}}
]
}
]
},
{
"width":996,"height":195,
"view":{"stroke":null},
"layer":[
{"data":{"name":"cap"},"transform":[{"filter":"datum.part == 'head'"}],"mark":{"type":"text","align":"left","baseline":"middle","font":"Liberation Serif","fontSize":20.4,"fontWeight":"bold","color":"#111111","dx":-61},
"encoding":{"x":{"datum":0,"type":"quantitative","scale":{"domain":[0,1]},"axis":null},"y":{"field":"line","type":"quantitative","scale":{"domain":[1,9],"reverse":true},"axis":null},"text":{"field":"text"}}},
{"data":{"name":"cap"},"transform":[{"filter":"datum.part == 'body' && datum.line == 1"}],"mark":{"type":"text","align":"left","baseline":"middle","font":"Liberation Serif","fontSize":20.4,"color":"#111111","dx":22},
"encoding":{"x":{"datum":0,"type":"quantitative","axis":null},"y":{"field":"line","type":"quantitative","axis":null},"text":{"field":"text"}}},
{"data":{"name":"cap"},"transform":[{"filter":"datum.line > 1"}],"mark":{"type":"text","align":"left","baseline":"middle","font":"Liberation Serif","fontSize":20.4,"color":"#111111","dx":-61},
"encoding":{"x":{"datum":0,"type":"quantitative","axis":null},"y":{"field":"line","type":"quantitative","axis":null},"text":{"field":"text"}}}
]
}
]
}
